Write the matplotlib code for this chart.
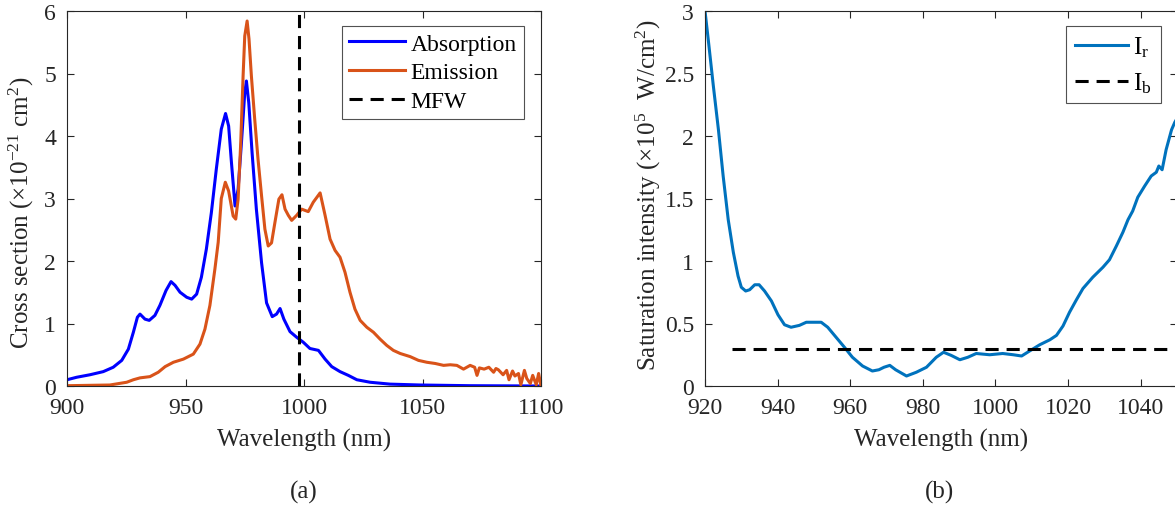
import matplotlib
matplotlib.use("Agg")
import matplotlib.pyplot as plt

plt.rcParams['font.family'] = ['Liberation Serif', 'DejaVu Serif']
plt.rcParams['mathtext.fontset'] = 'stix'

# ---------------- data: panel (a) ----------------
abs_wl = [900, 904.1, 909.7, 915.3, 919.5, 923.1, 925.9, 928, 929.7, 930.8, 932.9, 934.7, 937.1,
          939.2, 941.8, 943.9, 945.6, 947.7, 950.5, 952.6, 954.7, 956.7, 958.8, 960.9, 963, 965.1,
          966.9, 968.2, 969.4, 970.9, 972.2, 973.6, 975, 975.7, 976.7, 978.1, 979.9, 982.1, 984.2,
          986.6, 988.4, 989.9, 991.5, 994.1, 996.9, 999.7, 1002.5, 1006.1, 1008.9, 1011.7, 1015.2,
          1018.7, 1022.3, 1027.9, 1036.3, 1049, 1070, 1100]
abs_val = [0.10, 0.14, 0.18, 0.23, 0.30, 0.41, 0.59, 0.86, 1.10, 1.15, 1.07, 1.05, 1.13,
           1.29, 1.53, 1.67, 1.61, 1.50, 1.42, 1.39, 1.47, 1.74, 2.19, 2.77, 3.47, 4.11,
           4.36, 4.16, 3.57, 2.88, 3.15, 3.89, 4.69, 4.88, 4.53, 3.73, 2.83, 1.97, 1.33,
           1.11, 1.15, 1.24, 1.07, 0.87, 0.78, 0.70, 0.60, 0.57, 0.43, 0.31, 0.23,
           0.17, 0.10, 0.06, 0.03, 0.016, 0.005, 0.0]

emi_wl = [900, 918.1, 925.2, 928, 930.8, 935, 938.5, 941.4, 944.9, 949.1, 953.3, 956.1, 958.2,
          960.3, 962.4, 963.8, 965.1, 966.8, 968.2, 970.1, 971.2, 972.2, 973.3, 974.3, 975, 976,
          976.8, 977.8, 979.2, 980.6, 982.1, 983.5, 984.9, 986.3, 987.7, 989.4, 990.7, 992, 993.4,
          994.8, 996.9, 999, 1001.8, 1003.9, 1006.8, 1008.9, 1011, 1013.1, 1015.2, 1017.3, 1019.4,
          1021.5, 1023.7, 1026.5, 1029.3, 1032.1, 1034.9, 1037.7, 1040.6, 1044.8, 1048.3, 1051.8,
          1055.4, 1058.9, 1061.7, 1064.5, 1067.3, 1070.1, 1072, 1073, 1074, 1076, 1078, 1080,
          1081, 1082, 1084, 1085.5, 1086.5, 1088, 1089, 1090.5, 1091.5, 1093, 1094, 1095.5,
          1096.5, 1098, 1099, 1100]
emi_val = [0.005, 0.016, 0.06, 0.10, 0.13, 0.15, 0.22, 0.31, 0.38, 0.43, 0.51, 0.67, 0.91,
           1.29, 1.87, 2.30, 3.00, 3.26, 3.12, 2.72, 2.67, 2.99, 3.89, 4.96, 5.60, 5.84,
           5.55, 4.96, 4.27, 3.63, 3.04, 2.51, 2.24, 2.29, 2.61, 2.99, 3.06, 2.83, 2.73,
           2.65, 2.73, 2.83, 2.79, 2.94, 3.09, 2.73, 2.35, 2.17, 2.06, 1.82, 1.50,
           1.23, 1.05, 0.94, 0.86, 0.75, 0.65, 0.57, 0.52, 0.47, 0.41, 0.38,
           0.36, 0.33, 0.34, 0.33, 0.27, 0.33, 0.30, 0.17, 0.29, 0.27, 0.30, 0.22,
           0.28, 0.26, 0.18, 0.25, 0.10, 0.24, 0.16, 0.20, 0.02, 0.25, 0.12, 0.04,
           0.17, 0.02, 0.20, 0.0]

mfw = 997.7

# ---------------- data: panel (b) ----------------
ir_wl = [920, 920.9, 922.3, 923.7, 925, 926.4, 927.8, 929.1, 930, 931.2, 932.3, 933.7, 934.9,
         936.4, 938.3, 940.1, 941.9, 943.7, 946, 947.9, 950.1, 952, 953.8, 956.1, 958.4, 960.6,
         963.4, 966.1, 967.9, 969.3, 970.9, 972.5, 975.5, 978.2, 981, 983.7, 985.7, 987.8, 990.2,
         992.4, 994.7, 998.4, 1002, 1004.9, 1007.2, 1009.4, 1012.2, 1015, 1016.8, 1018.6, 1020.4,
         1022.3, 1024.1, 1026.8, 1029.6, 1031.4, 1033.3, 1035.1, 1036.5, 1037.8, 1039.2, 1041.1,
         1042.9, 1044.3, 1045, 1045.9, 1047, 1048.5, 1049.4, 1050]
ir_val = [3.0, 2.77, 2.40, 2.05, 1.68, 1.33, 1.07, 0.88, 0.79, 0.76, 0.77, 0.81, 0.81,
          0.76, 0.68, 0.57, 0.49, 0.47, 0.485, 0.51, 0.51, 0.51, 0.47, 0.39, 0.31, 0.23,
          0.16, 0.12, 0.13, 0.15, 0.165, 0.13, 0.08, 0.11, 0.15, 0.23, 0.27, 0.245, 0.21,
          0.23, 0.26, 0.25, 0.26, 0.25, 0.24, 0.28, 0.33, 0.37, 0.405, 0.48, 0.59,
          0.69, 0.78, 0.87, 0.95, 1.01, 1.12, 1.23, 1.33, 1.40, 1.51, 1.60,
          1.68, 1.71, 1.76, 1.73, 1.89, 2.05, 2.11, 2.14]
ib_wl = [927.3, 1050]
ib_val = [0.3, 0.3]

# ---------------- figure ----------------
W, H = 1175, 510
fig = plt.figure(figsize=(W / 100, H / 100), dpi=100)

def fx(px):
    return px / W

def fy(py):
    return 1 - py / H

TICK = 17
LAB = 18
INK = '#262626'
DASH = (0, (4.3, 2.6))

def style(ax):
    ax.tick_params(direction='in', which='both', top=True, right=True, length=5,
                   width=0.8, labelsize=TICK, pad=8, color=INK, labelcolor=INK)
    for s in ax.spines.values():
        s.set_linewidth(0.8)
        s.set_color(INK)

ax1 = fig.add_axes([fx(67), fy(387), fx(541 - 67), (387 - 12) / H])
ax1.plot(abs_wl, abs_val, color=(0, 0, 1), lw=2.2, label='Absorption')
ax1.plot(emi_wl, emi_val, color=(0.85, 0.325, 0.098), lw=2.2, label='Emission')
ax1.plot([mfw, mfw], [0, 6], color='k', lw=2.2, ls=DASH, label='MFW')
ax1.set_xlim(900, 1100)
ax1.set_ylim(0, 6)
ax1.set_xticks([900, 950, 1000, 1050, 1100])
ax1.set_yticks([0, 1, 2, 3, 4, 5, 6])
style(ax1)
ax1.set_xlabel('Wavelength (nm)', fontsize=LAB, color=INK, labelpad=7)
ax1.set_ylabel(r'Cross section (×10$^{\mathregular{-21}}$ cm$^{\mathregular{2}}$)', fontsize=LAB, color=INK)
ax1.yaxis.set_label_coords(-0.097, 0.464)
ax1.yaxis.label.set_va('center')
leg1 = ax1.legend(loc='upper right', bbox_to_anchor=(fx(524), fy(27)), bbox_transform=fig.transFigure,
                  fontsize=17, frameon=True, fancybox=False,
                  edgecolor=INK, handlelength=2.35, handletextpad=0.25,
                  borderpad=0.3, labelspacing=0.3, borderaxespad=0.0)
leg1.get_frame().set_linewidth(0.8)

ax2 = fig.add_axes([fx(705), fy(387), fx(1177 - 705), (387 - 12) / H])
ax2.plot(ir_wl, ir_val, color=(0, 0.447, 0.741), lw=2.2, label=r'I$_{\mathregular{r}}$')
ax2.plot(ib_wl, ib_val, color='k', lw=2.2, ls=DASH, label=r'I$_{\mathregular{b}}$')
ax2.set_xlim(920, 1050)
ax2.set_ylim(0, 3)
ax2.set_xticks([920, 940, 960, 980, 1000, 1020, 1040])
ax2.set_yticks([0, 0.5, 1, 1.5, 2, 2.5, 3])
ax2.set_yticklabels(['0', '0.5', '1', '1.5', '2', '2.5', '3'])
style(ax2)
ax2.set_xlabel('Wavelength (nm)', fontsize=LAB, color=INK, labelpad=7)
ax2.set_ylabel(r'Saturation intensity (×10$^{\mathregular{5}}$  W/cm$^{\mathregular{2}}$)', fontsize=LAB, color=INK)
ax2.yaxis.set_label_coords(-0.12, 0.512)
ax2.yaxis.label.set_va('center')
leg2 = ax2.legend(loc='upper right', bbox_to_anchor=(fx(1161), fy(27)), bbox_transform=fig.transFigure,
                  fontsize=18, frameon=True, fancybox=False,
                  edgecolor=INK, handlelength=2.15, handletextpad=0.2,
                  borderpad=0.35, labelspacing=0.45, borderaxespad=0.0)
leg2.get_frame().set_linewidth(0.8)

fig.text(fx(304), fy(492), '(a)', fontsize=LAB, ha='center', va='center', color=INK)
fig.text(fx(940), fy(492), '(b)', fontsize=LAB, ha='center', va='center', color=INK)

fig.savefig('out.png', dpi=100)
